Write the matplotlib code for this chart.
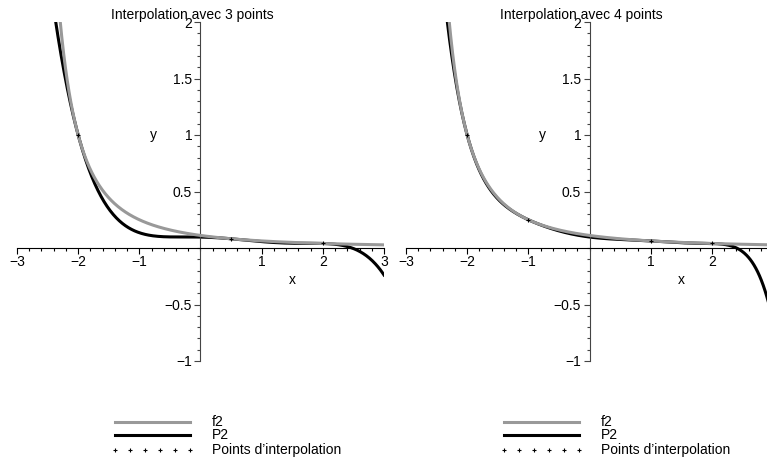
import numpy as np
import matplotlib
matplotlib.use('Agg')
import matplotlib.pyplot as plt
from matplotlib.lines import Line2D
from matplotlib.ticker import MultipleLocator, FuncFormatter

plt.rcParams['font.family'] = ['Liberation Sans', 'DejaVu Sans']
plt.rcParams['font.size'] = 10

W, H = 767, 462

# interpolation nodes for each panel
nodes_3 = [-2.0, 0.5, 2.0]
nodes_4 = [-2.0, -1.0, 1.0, 2.0]
titles = ['Interpolation avec 3 points', 'Interpolation avec 4 points']
legend_labels = ['f2', 'P2', "Points d\u2019interpolation"]

x_range = (-3, 3)
y_range = (-1, 2)
x_ticks = [-3, -2, -1, 1, 2, 3]
y_ticks = [-1, -0.5, 0.5, 1, 1.5, 2]

GRAY = '#999999'


def f2(x):
    return 1.0 / (x + 3.0) ** 2


def df2(x):
    return -2.0 / (x + 3.0) ** 3


def hermite(xn):
    """ Hermite interpolating polynomial of f2 (values and slopes at xn). """
    xn = np.asarray(xn, dtype=float)
    z = np.repeat(xn, 2)
    n = len(z)
    q = np.zeros((n, n))
    q[:, 0] = f2(z)
    for i in range(1, n):
        if i % 2 == 1:
            q[i, 1] = df2(z[i])
        else:
            q[i, 1] = (q[i, 0] - q[i - 1, 0]) / (z[i] - z[i - 1])
    for j in range(2, n):
        for i in range(j, n):
            q[i, j] = (q[i, j - 1] - q[i - 1, j - 1]) / (z[i] - z[i - j])
    coef = np.diag(q)

    def p(x):
        out = np.full_like(x, coef[-1])
        for k in range(n - 2, -1, -1):
            out = out * (x - z[k]) + coef[k]
        return out
    return p


def fmt(v, pos):
    return '{:g}'.format(v).replace('-', '\u2212')


def px(x, y):
    return x / W, 1 - y / H


fig = plt.figure(figsize=(W / 100, H / 100), dpi=100)
xs = np.linspace(x_range[0], x_range[1], 600)

for left, nodes, title in ((17, nodes_3, titles[0]), (406, nodes_4, titles[1])):
    ax = fig.add_axes([left / W, (H - 361) / H, 367 / W, 339 / H])
    ax.patch.set_visible(False)
    ax.set_xlim(*x_range)
    ax.set_ylim(*y_range)

    P2 = hermite(nodes)
    ax.plot(xs, P2(xs), color='black', lw=2.2, zorder=2)
    ax.plot(xs, f2(xs), color=GRAY, lw=2.2, zorder=3)
    nx = np.array(nodes)
    ax.plot(nx, f2(nx), ls='none', marker='+', ms=3, mew=0.8, color='black', zorder=4)

    for s in ('top', 'right'):
        ax.spines[s].set_visible(False)
    ax.spines['left'].set_position(('data', 0))
    ax.spines['bottom'].set_position(('data', 0))
    ax.spines['left'].set_linewidth(0.8)
    ax.spines['left'].set_color('#444444')
    ax.spines['bottom'].set_linewidth(0.8)

    ax.set_xticks(x_ticks)
    ax.set_yticks(y_ticks)
    ax.xaxis.set_minor_locator(MultipleLocator(0.2))
    ax.yaxis.set_minor_locator(MultipleLocator(0.1))
    ax.xaxis.set_major_formatter(FuncFormatter(fmt))
    ax.yaxis.set_major_formatter(FuncFormatter(fmt))
    ax.tick_params(which='major', length=4, width=0.8, pad=1, labelsize=10)
    ax.tick_params(which='minor', length=2, width=0.8)
    ax.tick_params(axis='y', which='both', color='#444444')
    ax.tick_params(axis='y', which='major', pad=2)

    ax.text(1.5, -0.28, 'x', ha='center', va='center', fontsize=10)
    ax.text(-0.77, 1.0, 'y', ha='center', va='center', fontsize=10)

    # title sits a little left of the axes centre
    tx, ty = px(left + 183.5 - 8, 19)
    fig.text(tx, ty, title, ha='center', va='baseline', fontsize=10)

    # legend under each plot
    lx0, lx1, tx_l = left + 98, left + 173, left + 195
    rows = [422, 435, 450]
    for y, kw in zip(rows[:2], [dict(color=GRAY), dict(color='black')]):
        (a, b), (c, d) = px(lx0, y), px(lx1, y)
        fig.add_artist(Line2D([a, c], [b, d], lw=2.2, **kw))
    mx = np.linspace(lx0, lx1, 6)
    fig.add_artist(Line2D(mx / W, np.full(6, 1 - rows[2] / H), ls='none', marker='+',
                          ms=3, mew=0.8, color='black'))
    for y, lab in zip(rows, legend_labels):
        a, b = px(tx_l, y)
        fig.text(a, b, lab, ha='left', va='center', fontsize=10)

fig.savefig('out.png', dpi=100)
